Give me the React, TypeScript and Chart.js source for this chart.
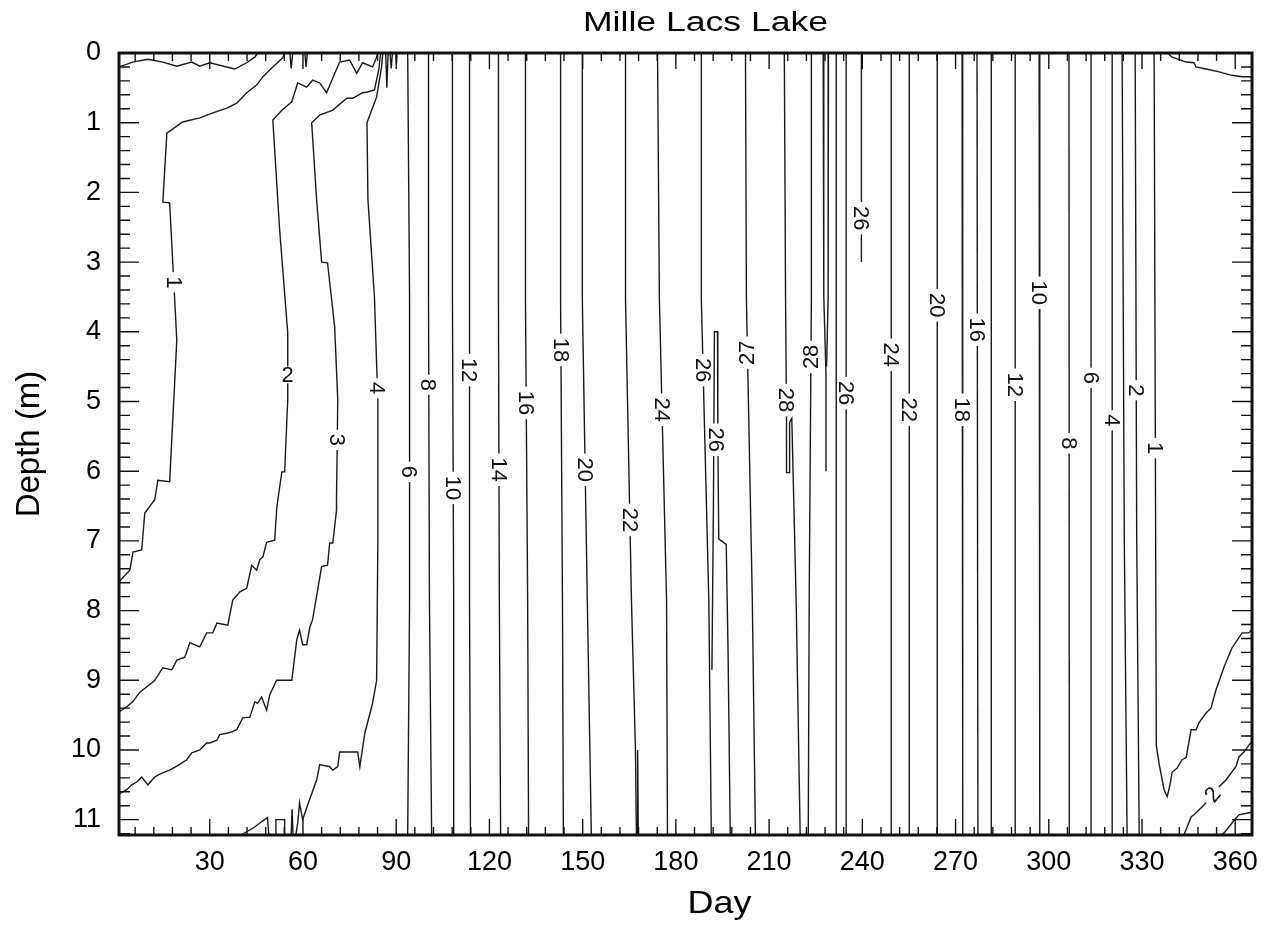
import React, { useEffect, useRef } from 'react';
import { Chart, registerables } from 'chart.js';

Chart.register(...registerables);

type P = [number, number];

const FONT = "'Liberation Sans', Arial, Helvetica, sans-serif";
const TITLE = 'Mille Lacs Lake';
const X_TITLE = 'Day';
const Y_TITLE = 'Depth (m)';

const xMajorTicks = [30, 60, 90, 120, 150, 180, 210, 240, 270, 300, 330, 360];
const yMajorTicks = [0, 1, 2, 3, 4, 5, 6, 7, 8, 9, 10, 11];

// Isotherm contours (day, depth m)
const c1TopLeft: P[] = [[0.8, 0.2], [5.2, 0.13], [10.1, 0.09], [14.9, 0.13], [19.4, 0.19], [24.2, 0.13], [26.8, 0.19], [30.0, 0.14], [38.0, 0.23], [41.9, 0.14], [44.5, 0.06], [45.4, 0]];
const c1Left: P[] = [[54.1, 0], [53.5, 0.07], [50.3, 0.2], [47.1, 0.34], [45.1, 0.46], [41.9, 0.57], [38.7, 0.72], [35.5, 0.79], [31.0, 0.86], [26.8, 0.93], [21.3, 0.99], [17.8, 1.1], [16.2, 1.15], [14.9, 2.14], [17.1, 2.15], [18.1, 3.01], [19.4, 4.12], [17.1, 6.15], [13.3, 6.13], [12.3, 6.41], [9.1, 6.6], [8.1, 7.13], [5.3, 7.16], [4.3, 7.42], [2.0, 7.53], [0.8, 7.59]];
const c2Left: P[] = [[84.1, 0], [83.7, 0.06], [82.4, 0.2], [79.2, 0.14], [77.3, 0.29], [75.0, 0.1], [71.8, 0.13], [69.6, 0.36], [67.6, 0.57], [65.4, 0.43], [63.1, 0.39], [61.2, 0.49], [58.3, 0.43], [56.4, 0.7], [53.2, 0.82], [50.3, 0.96], [52.5, 2.54], [55.1, 4.02], [55.1, 4.98], [54.1, 6.01], [53.2, 6.01], [51.6, 6.51], [50.9, 6.99], [48.3, 7.02], [47.1, 7.23], [46.1, 7.27], [45.1, 7.42], [43.5, 7.35], [41.9, 7.68], [39.7, 7.73], [37.4, 7.85], [35.8, 8.21], [32.3, 8.18], [31.0, 8.32], [29.0, 8.32], [26.8, 8.52], [23.6, 8.46], [22.0, 8.67], [19.4, 8.71], [17.8, 8.85], [14.9, 8.82], [12.3, 9.0], [11.3, 9.04], [7.5, 9.17], [5.2, 9.31], [3.3, 9.38], [1.7, 9.43], [0.8, 9.45]];
const c3Left: P[] = [[85.0, 0], [84.4, 0.24], [83.0, 0.53], [80.8, 0.56], [79.2, 0.57], [76.0, 0.65], [74.1, 0.65], [69.6, 0.82], [65.4, 0.89], [62.8, 1.0], [64.4, 2.11], [66.0, 3.0], [67.9, 3.01], [70.2, 3.93], [71.2, 4.98], [70.8, 6.37], [70.8, 6.56], [69.6, 7.03], [68.6, 7.03], [67.9, 7.35], [66.0, 7.37], [63.1, 8.13], [62.2, 8.24], [61.2, 8.49], [59.9, 8.49], [58.9, 8.28], [58.0, 8.42], [56.4, 9.0], [51.5, 9.0], [49.3, 9.21], [48.3, 9.43], [46.7, 9.24], [45.4, 9.33], [44.5, 9.31], [42.9, 9.53], [40.6, 9.54], [38.7, 9.71], [37.1, 9.74], [35.5, 9.76], [33.2, 9.78], [32.3, 9.86], [30.0, 9.9], [29.0, 9.9], [26.8, 10.0], [24.2, 10.04], [22.6, 10.14], [19.8, 10.22], [17.1, 10.29], [14.9, 10.33], [13.3, 10.36], [12.3, 10.39], [10.1, 10.5], [8.1, 10.39], [6.5, 10.46], [4.9, 10.5], [3.3, 10.57], [2.0, 10.6], [0.8, 10.63]];
const c4Left: P[] = [[85.7, 0], [85.3, 0.2], [83.7, 0.63], [80.6, 1.0], [80.9, 2.1], [83.0, 3.5], [84.1, 5.0], [84.1, 7.0], [83.7, 9.0], [82.4, 9.33], [79.9, 9.76], [78.3, 10.24], [77.6, 10.03], [71.8, 10.03], [71.2, 10.24], [69.6, 10.29], [68.6, 10.24], [65.4, 10.21], [64.4, 10.43], [61.5, 10.79], [59.9, 11.0], [58.9, 10.76], [58.3, 11.05], [57.7, 11.22]];
const c4Bottom: P[] = [[40.0, 11.22], [44.0, 11.12], [47.0, 11.02], [48.6, 10.97], [49.0, 11.22]];
const c4BottomBox: P[] = [[51.3, 11.22], [51.3, 11.0], [54.1, 11.0], [54.1, 11.22]];
const c4BottomSpike: P[] = [[56.2, 11.22], [56.5, 10.85], [56.8, 11.22]];
const topSpikeA: P[] = [[55.8, 0], [56.2, 0.22], [56.7, 0]];
const topSpikeB: P[] = [[60.6, 0], [61.0, 0.2], [61.4, 0]];
const topSpikeC: P[] = [[86.6, 0], [87.0, 0.5], [87.4, 0]];
const topSpikeD: P[] = [[88.0, 0], [88.4, 0.22], [88.8, 0]];
const topSpikeE: P[] = [[89.9, 0], [90.1, 0.15], [90.3, 0]];

const iso6: P[] = [[93.7, 0], [94.3, 3.5], [94.3, 7.9], [93.7, 11.22]];
const iso8: P[] = [[100.4, 0], [100.4, 3.54], [100.7, 7.85], [101.4, 11.22]];
const iso10: P[] = [[108.1, 0], [108.1, 3.54], [108.5, 7.85], [108.5, 11.22]];
const iso12: P[] = [[113.6, 0], [113.6, 3.54], [113.6, 7.85], [113.9, 11.22]];
const iso14: P[] = [[122.9, 0], [122.9, 3.54], [123.2, 7.85], [123.6, 11.22]];
const iso16: P[] = [[131.6, 0], [131.6, 3.54], [132.3, 7.85], [132.6, 11.22]];
const iso18: P[] = [[142.9, 0], [142.9, 3.54], [143.5, 7.85], [143.8, 11.22]];
const iso20: P[] = [[149.9, 0], [149.9, 3.54], [151.5, 7.85], [152.8, 11.22]];
const iso22: P[] = [[163.8, 0], [163.8, 3.54], [165.7, 7.85], [167.0, 10.0], [167.3, 11.22]];
const iso22Spike: P[] = [[167.5, 11.22], [167.7, 10.0], [167.9, 11.22]];
const iso24: P[] = [[174.1, 0], [174.7, 3.54], [177.0, 7.85], [177.3, 11.22]];
const iso26: P[] = [[188.2, 0], [188.2, 3.54], [190.6, 7.85], [191.4, 11.22]];
const iso26Loop: P[] = [[191.6, 8.85], [192.1, 6.4], [192.4, 4.0], [193.4, 4.0], [193.5, 5.5], [193.8, 6.97], [196.2, 7.05], [196.8, 8.6], [197.5, 11.22]];
const iso27: P[] = [[202.4, 0], [202.7, 3.54], [204.6, 7.85], [205.6, 11.22]];
const iso28: P[] = [[214.9, 0], [215.3, 3.54], [215.6, 5.2], [215.6, 6.02], [216.5, 6.02], [216.6, 5.3], [217.3, 5.24], [218.7, 7.85], [220.0, 11.22]];
const iso28b: P[] = [[223.6, 0], [223.6, 3.54], [222.9, 7.85], [222.6, 11.22]];
const iso27b: P[] = [[227.4, 0], [227.6, 3.5], [228.3, 4.6], [228.3, 6.0]];
const iso27c: P[] = [[229.1, 0], [229.0, 3.5], [228.5, 4.5]];
const iso26b: P[] = [[231.6, 0], [231.6, 5.5], [231.6, 11.22]];
const iso26c: P[] = [[234.8, 0], [234.8, 5.5], [234.8, 11.22]];
const iso26d: P[] = [[239.7, 0], [239.7, 3.0]];
const iso24b: P[] = [[249.3, 0], [249.3, 11.22]];
const iso22b: P[] = [[255.1, 0], [255.1, 11.22]];
const iso20b: P[] = [[264.1, 0], [264.1, 11.22]];
const iso18b: P[] = [[272.1, 0], [272.3, 11.22]];
const iso16b: P[] = [[276.9, 0], [277.2, 11.22]];
const iso14b: P[] = [[281.5, 0], [281.5, 11.22]];
const iso12b: P[] = [[289.2, 0], [289.2, 11.22]];
const iso10b: P[] = [[296.9, 0], [297.1, 11.22]];
const iso8b: P[] = [[306.5, 0], [306.6, 11.22]];
const iso6b: P[] = [[313.6, 0], [313.6, 11.22]];
const iso4b: P[] = [[320.4, 0], [320.4, 11.22]];
const iso3b: P[] = [[323.6, 0], [324.3, 7.0], [325.2, 11.22]];
const iso2b: P[] = [[327.8, 0], [328.3, 7.0], [329.1, 11.22]];
const iso1b: P[] = [[333.9, 0], [334.6, 9.93], [335.5, 10.2], [337.1, 10.57], [338.1, 10.67], [339.0, 10.5], [339.7, 10.32], [341.3, 10.26], [342.9, 10.14], [344.2, 10.11], [345.8, 9.71], [347.4, 9.71], [348.3, 9.61], [350.6, 9.47], [352.2, 9.4], [353.8, 9.14], [356.4, 8.81], [358.9, 8.54], [362.2, 8.32], [364.4, 8.32], [365.7, 8.25]];
const c1TopRight: P[] = [[338.1, 0], [339.7, 0.06], [344.2, 0.13], [346.7, 0.14], [347.4, 0.2], [350.6, 0.23], [354.8, 0.27], [358.9, 0.32], [362.2, 0.34], [364.4, 0.34], [365.7, 0.36]];
const c2BottomRight: P[] = [[343.5, 11.22], [345.8, 10.96], [346.7, 10.93], [348.3, 10.86], [351.5, 10.72], [353.8, 10.57], [357.0, 10.43], [360.2, 10.24], [361.2, 10.1], [362.8, 10.03], [364.4, 9.93], [365.7, 9.86]];
const c3BottomRight: P[] = [[355.4, 11.22], [356.4, 11.19], [360.2, 10.98], [361.2, 10.93], [364.4, 10.9], [365.7, 10.89]];

const contours: P[][] = [
  c1TopLeft, c1Left, c2Left, c3Left, c4Left, c4Bottom, c4BottomBox, c4BottomSpike,
  topSpikeA, topSpikeB, topSpikeC, topSpikeD, topSpikeE,
  iso6, iso8, iso10, iso12, iso14, iso16, iso18, iso20, iso22, iso22Spike, iso24,
  iso26, iso26Loop, iso27, iso28, iso28b, iso27b, iso27c, iso26b, iso26c, iso26d,
  iso24b, iso22b, iso20b, iso18b, iso16b, iso14b, iso12b, iso10b, iso8b, iso6b,
  iso4b, iso3b, iso2b, iso1b, c1TopRight, c2BottomRight, c3BottomRight,
];

// Contour labels: [text, day, depth, rotation in degrees]
const contourLabels: [string, number, number, number][] = [
  ['1', 18.4, 3.29, 90], ['2', 55.1, 4.62, 0], ['3', 71.0, 5.55, 90], ['4', 84.0, 4.81, 90],
  ['6', 94.1, 6.01, 90], ['8', 100.4, 4.76, 90], ['10', 108.35, 6.24, 90], ['12', 113.6, 4.55, 90],
  ['14', 123.07, 5.98, 90], ['16', 131.84, 5.02, 90], ['18', 143.0, 4.26, 90], ['20', 150.8, 5.98, 90],
  ['22', 165.2, 6.7, 90], ['24', 175.5, 5.12, 90], ['26', 188.75, 4.55, 90], ['26', 193.0, 5.55, 90],
  ['27', 203.0, 4.3, -90], ['28', 215.5, 4.98, 90], ['28', 223.6, 4.36, -90], ['26', 234.8, 4.88, 90],
  ['26', 239.7, 2.37, 90], ['24', 249.3, 4.33, 90], ['22', 255.1, 5.12, 90], ['20', 264.1, 3.62, 90],
  ['18', 272.2, 5.12, 90], ['16', 277.0, 3.97, 90], ['12', 289.2, 4.76, 90], ['10', 297.0, 3.44, 90],
  ['8', 306.55, 5.6, 90], ['6', 313.6, 4.66, 90], ['4', 320.4, 5.27, 90], ['2', 328.15, 4.84, 90],
  ['1', 334.3, 5.67, 90], ['2', 352.7, 10.64, -50],
];

const decorPlugin = {
  id: 'decor',
  afterDatasetsDraw(chart: any) {
    const { ctx, chartArea: a } = chart;
    const xs = chart.scales.x;
    const ys = chart.scales.y;
    ctx.save();
    // contour labels
    const fs = 22;
    ctx.font = `${fs}px ${FONT}`;
    ctx.textAlign = 'center';
    ctx.textBaseline = 'middle';
    for (const [t, d, z, ang] of contourLabels) {
      const px = xs.getPixelForValue(d);
      const py = ys.getPixelForValue(z);
      const w = ctx.measureText(t).width;
      ctx.save();
      ctx.translate(px, py);
      ctx.rotate((ang * Math.PI) / 180);
      ctx.fillStyle = '#fff';
      ctx.fillRect(-w / 2 - 4, -fs * 0.38, w + 8, fs * 0.76);
      ctx.fillStyle = '#111';
      ctx.fillText(t, 0, 1);
      ctx.restore();
    }
    // ticks (inward, all four sides)
    ctx.strokeStyle = '#111';
    ctx.lineWidth = 1.4;
    ctx.beginPath();
    for (let i = 1; i <= 60; i++) {
      const d = i * 6;
      const px = xs.getPixelForValue(d);
      if (px > a.right - 1) continue;
      const len = xMajorTicks.includes(d) ? 16 : 8;
      ctx.moveTo(px, a.bottom);
      ctx.lineTo(px, a.bottom - len);
      ctx.moveTo(px, a.top);
      ctx.lineTo(px, a.top + len);
    }
    for (let i = 1; i <= 56; i++) {
      const z = i * 0.2;
      const py = ys.getPixelForValue(z);
      if (py > a.bottom - 1) continue;
      const len = i % 5 === 0 ? 20 : 11;
      ctx.moveTo(a.left, py);
      ctx.lineTo(a.left + len, py);
      ctx.moveTo(a.right, py);
      ctx.lineTo(a.right - len, py);
    }
    ctx.stroke();
    // frame
    ctx.lineWidth = 3;
    ctx.strokeRect(a.left, a.top, a.right - a.left, a.bottom - a.top);
    ctx.restore();
  },
  afterDraw(chart: any) {
    const { ctx, chartArea: a } = chart;
    const cx = (a.left + a.right) / 2;
    ctx.save();
    ctx.fillStyle = '#000';
    ctx.textAlign = 'center';
    ctx.textBaseline = 'alphabetic';
    // main title
    ctx.font = `27px ${FONT}`;
    let w = ctx.measureText(TITLE).width;
    ctx.save();
    ctx.translate(cx + 20, 31);
    ctx.scale(245 / w, 1);
    ctx.fillText(TITLE, 0, 0);
    ctx.restore();
    // x axis title
    ctx.font = `32px ${FONT}`;
    w = ctx.measureText(X_TITLE).width;
    ctx.save();
    ctx.translate(cx + 34, 913);
    ctx.scale(64 / w, 1);
    ctx.fillText(X_TITLE, 0, 0);
    ctx.restore();
    ctx.restore();
  },
};

export default function App() {
  const ref = useRef<HTMLCanvasElement | null>(null);
  useEffect(() => {
    if (!ref.current) return;
    const chart = new Chart(ref.current, {
      type: 'scatter',
      data: {
        datasets: contours.map((pts, i) => ({
          label: `c${i}`,
          data: pts.map(([x, y]) => ({ x, y })),
          showLine: true,
          pointRadius: 0,
          borderColor: '#1a1a1a',
          backgroundColor: '#1a1a1a',
          borderWidth: 1.4,
          tension: 0,
          fill: false,
        })),
      },
      options: {
        animation: false,
        responsive: false,
        maintainAspectRatio: false,
        events: [],
        layout: { padding: { top: 53, right: 16, left: 0, bottom: 0 } },
        plugins: {
          legend: { display: false },
          tooltip: { enabled: false },
          title: { display: false },
        },
        scales: {
          x: {
            type: 'linear',
            position: 'bottom',
            min: 0.8,
            max: 365.4,
            grid: { display: false, drawTicks: false },
            border: { display: false },
            ticks: { font: { family: FONT, size: 27 }, color: '#000', padding: 11, maxRotation: 0, autoSkip: false },
            afterBuildTicks: (s: any) => { s.ticks = xMajorTicks.map((v) => ({ value: v })); },
            afterFit: (s: any) => { s.height = 92; },
          },
          y: {
            type: 'linear',
            reverse: true,
            min: 0,
            max: 11.22,
            grid: { display: false, drawTicks: false },
            border: { display: false },
            ticks: { font: { family: FONT, size: 27 }, color: '#000', padding: 18, autoSkip: false },
            afterBuildTicks: (s: any) => { s.ticks = yMajorTicks.map((v) => ({ value: v })); },
            afterFit: (s: any) => { s.width = 119; },
            title: { display: true, text: Y_TITLE, color: '#000', font: { family: FONT, size: 33 }, padding: { top: 10, bottom: 0 } },
          },
        },
      } as any,
      plugins: [decorPlugin],
    });
    return () => chart.destroy();
  }, []);
  return (
    <div style={{ position: 'absolute', left: 0, top: 0, width: 1269, height: 927, background: '#fff' }}>
      <canvas ref={ref} width={1269} height={927} style={{ display: 'block' }} />
    </div>
  );
}
